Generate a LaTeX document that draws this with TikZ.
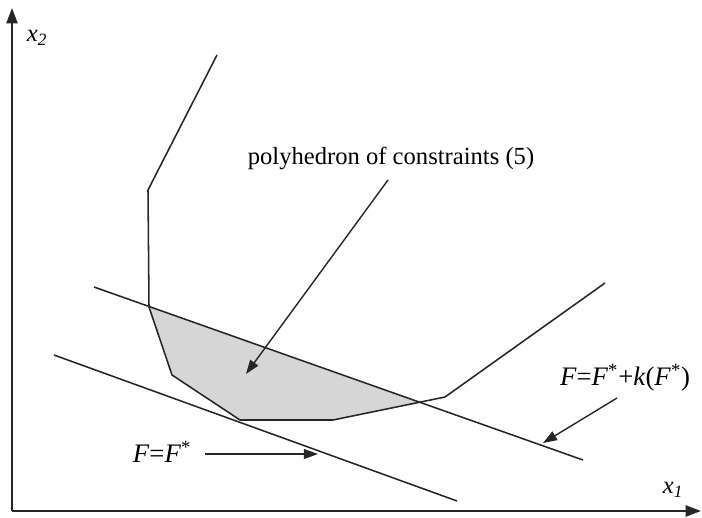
\documentclass[tikz,border=0pt]{standalone}
\usepackage{fontspec}
\setmainfont{Liberation Serif}
\usepackage{tikz}
\usetikzlibrary{arrows.meta}

\begin{document}
\begin{tikzpicture}[
    x=0.025cm, y=-0.025cm,
    font=\fontsize{17.5}{20}\selectfont,
    axis/.style={-{Triangle[length=11pt,width=8pt]}, line width=1.3pt, draw=black!85},
    bound/.style={draw=black!85, line width=1.1pt, line join=round},
    level/.style={draw=black!85, line width=1.1pt},
    pointer/.style={-{Triangle[length=10pt,width=7pt]}, line width=1pt, draw=black!85},
    mathlbl/.style={font=\fontsize{19}{22}\selectfont, inner sep=1pt},
]
% Frame (pixel coordinates of the figure)
\useasboundingbox (0,0) rectangle (702,518);

% Axes
\coordinate (O) at (12,511);
\coordinate (X1) at (701,511);
\coordinate (X2) at (12,8);
\draw[axis] (O) -- (X1);
\draw[axis] (O) -- (X2);
\node (lx1) at (673,490) {\textit{x}\textsubscript{\textit{1}}};
\node (lx2) at (37,38) {\textit{x}\textsubscript{\textit{2}}};

% Vertices of the constraint boundary
\coordinate (v1) at (217,55);
\coordinate (v2) at (148,190);
\coordinate (v3) at (149,307);
\coordinate (v4) at (172,375);
\coordinate (v5) at (240,420);
\coordinate (v6) at (333,420);
\coordinate (v7) at (445,397);
\coordinate (v8) at (605,283);
\coordinate (p) at (420,403);

% Level lines
\coordinate (a1) at (94,287);
\coordinate (a2) at (583,460);
\coordinate (b1) at (54,355);
\coordinate (b2) at (457,501);

% Shaded region
\fill[black!16] (v3) -- (v4) -- (v5) -- (v6) -- (p) -- cycle;

\draw[bound] (v1) -- (v2) -- (v3) -- (v4) -- (v5) -- (v6) -- (v7) -- (v8);
\draw[level] (a1) -- (a2);
\draw[level] (b1) -- (b2);

% Labels and pointers
\node (poly) at (391,158) {polyhedron of constraints (5)};
\coordinate (polytip) at (246,374);
\draw[pointer] (388,180) -- (polytip);

\node[mathlbl] (Fk) at (625,378) {\textit{F}=\textit{F}\textsuperscript{*}+\textit{k}(\textit{F}\textsuperscript{*})};
\coordinate (Fktip) at (543,443);
\draw[pointer] (617,398) -- (Fktip);

\node[mathlbl] (Fs) at (162,452) {\textit{F}=\textit{F}\textsuperscript{*}};
\coordinate (Fstip) at (318,454);
\draw[pointer] (205,454) -- (Fstip);
\end{tikzpicture}
\end{document}
